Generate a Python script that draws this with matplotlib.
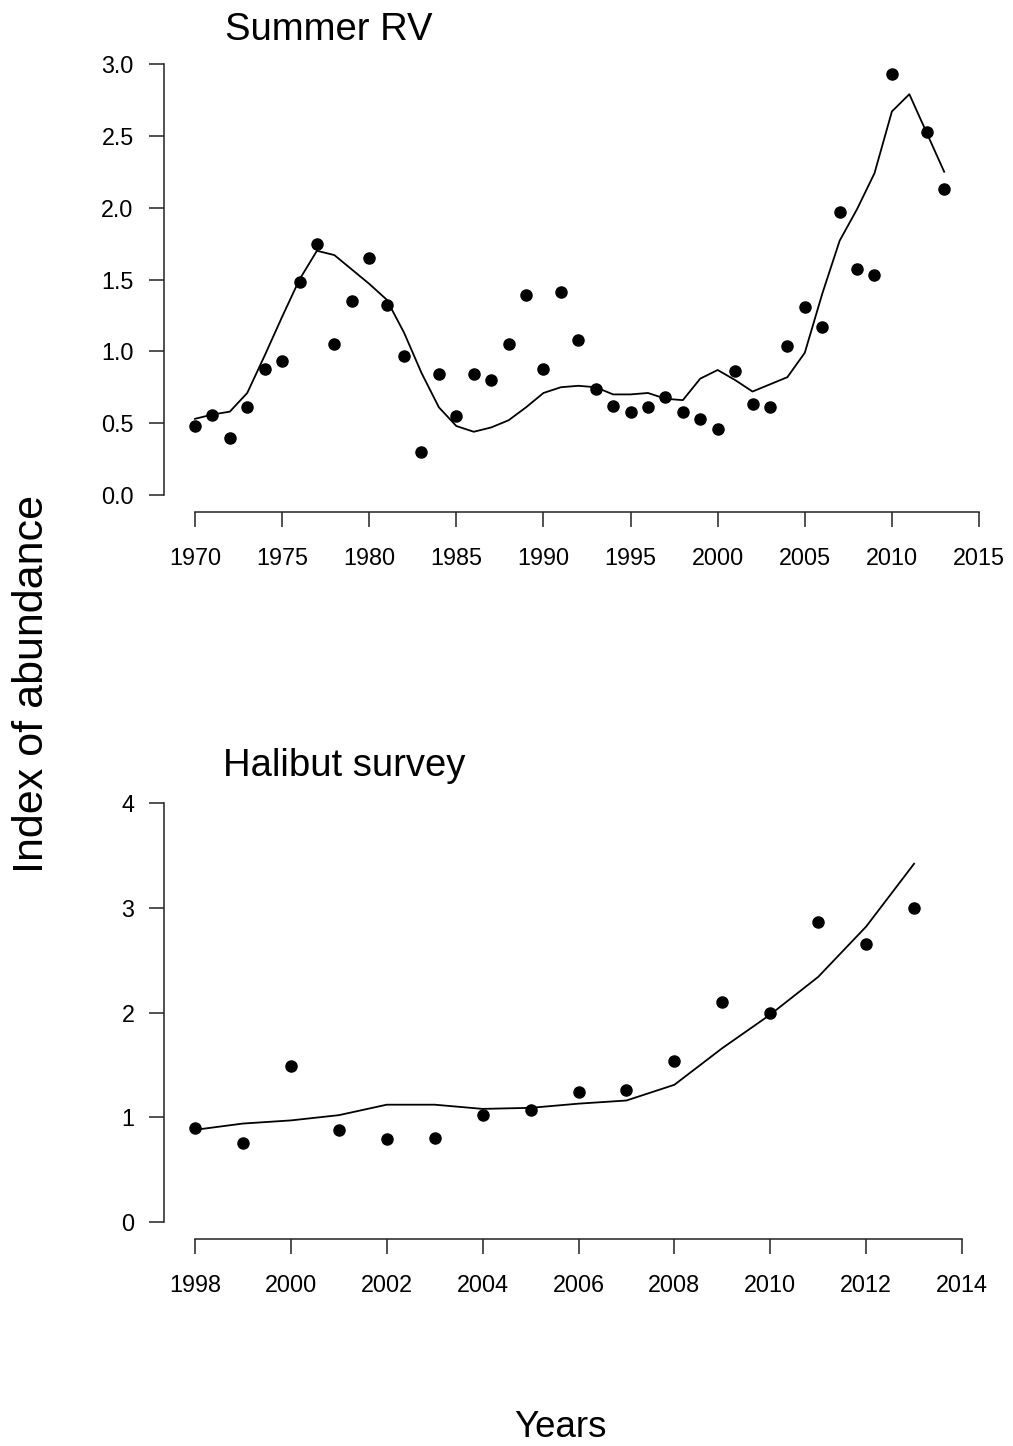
import matplotlib
matplotlib.use("Agg")
import matplotlib.pyplot as plt

# Summer RV survey index (observed points and model fit)
rv_years = [1970, 1971, 1972, 1973, 1974, 1975, 1976, 1977, 1978, 1979,
            1980, 1981, 1982, 1983, 1984, 1985, 1986, 1987, 1988, 1989,
            1990, 1991, 1992, 1993, 1994, 1995, 1996, 1997, 1998, 1999,
            2000, 2001, 2002, 2003, 2004, 2005, 2006, 2007, 2008, 2009,
            2010, 2012, 2013]
rv_obs = [0.48, 0.56, 0.40, 0.61, 0.88, 0.93, 1.48, 1.75, 1.05, 1.35,
          1.65, 1.32, 0.97, 0.30, 0.84, 0.55, 0.84, 0.80, 1.05, 1.39,
          0.88, 1.41, 1.08, 0.74, 0.62, 0.58, 0.61, 0.68, 0.58, 0.53,
          0.46, 0.86, 0.63, 0.61, 1.04, 1.31, 1.17, 1.97, 1.57, 1.53,
          2.93, 2.53, 2.13]
rv_fit_years = list(range(1970, 2014))
rv_fit = [0.53, 0.56, 0.58, 0.71, 0.97, 1.24, 1.50, 1.70, 1.67, 1.57,
          1.47, 1.36, 1.13, 0.85, 0.61, 0.48, 0.44, 0.47, 0.52, 0.61,
          0.71, 0.75, 0.76, 0.75, 0.70, 0.70, 0.71, 0.67, 0.66, 0.81,
          0.87, 0.80, 0.72, 0.77, 0.82, 0.99, 1.40, 1.77, 1.99, 2.24,
          2.67, 2.79, 2.52, 2.25]

# Halibut survey index
hal_years = list(range(1998, 2014))
hal_obs = [0.90, 0.75, 1.49, 0.88, 0.79, 0.80, 1.02, 1.07, 1.24, 1.26,
           1.54, 2.10, 2.00, 2.86, 2.65, 3.00]
hal_fit = [0.88, 0.94, 0.97, 1.02, 1.12, 1.12, 1.08, 1.09, 1.13, 1.16,
           1.31, 1.66, 1.98, 2.34, 2.82, 3.42]

rv_xticks = [1970, 1975, 1980, 1985, 1990, 1995, 2000, 2005, 2010, 2015]
rv_yticks = [0.0, 0.5, 1.0, 1.5, 2.0, 2.5, 3.0]
hal_xticks = list(range(1998, 2015, 2))
hal_yticks = [0, 1, 2, 3, 4]

plt.rcParams["font.family"] = ["Liberation Sans", "DejaVu Sans"]

W, H = 1013, 1446
fig = plt.figure(figsize=(W / 100, H / 100), dpi=100)


def px_axes(left, top, right, bottom):
    return fig.add_axes([left / W, 1 - bottom / H, (right - left) / W, (bottom - top) / H])


def style(ax, xticks, yticks, ylabels):
    for s in ["top", "right"]:
        ax.spines[s].set_visible(False)
    ax.spines["left"].set_bounds(yticks[0], yticks[-1])
    ax.spines["bottom"].set_bounds(xticks[0], xticks[-1])
    for s in ["left", "bottom"]:
        ax.spines[s].set_linewidth(1.1)
        ax.spines[s].set_color("#222222")
    ax.set_xticks(xticks)
    ax.set_xticklabels([str(x) for x in xticks])
    ax.set_yticks(yticks)
    ax.set_yticklabels(ylabels)
    ax.tick_params(axis="both", direction="out", length=10.5, width=1.1,
                   color="#222222", labelsize=16.8)
    ax.tick_params(axis="x", pad=14.5)
    ax.tick_params(axis="y", pad=11)


ax1 = px_axes(163.6, 46.8, 1010.4, 512.2)
ax1.plot(rv_fit_years, rv_fit, color="black", lw=1.3)
ax1.plot(rv_years, rv_obs, "o", color="black", ms=8)
ax1.set_xlim(1968.2, 2016.8)
ax1.set_ylim(-0.12, 3.12)
style(ax1, rv_xticks, rv_yticks, [f"{v:.1f}" for v in rv_yticks])

ax2 = px_axes(164.3, 786.2, 992.7, 1238.8)
ax2.plot(hal_years, hal_fit, color="black", lw=1.3)
ax2.plot(hal_years, hal_obs, "o", color="black", ms=8)
ax2.set_xlim(1997.36, 2014.64)
ax2.set_ylim(-0.16, 4.16)
style(ax2, hal_xticks, hal_yticks, [str(v) for v in hal_yticks])

fig.text(225 / W, 1 - 40 / H, "Summer RV", fontsize=27.5, ha="left", va="baseline")
fig.text(223 / W, 1 - 776.5 / H, "Halibut survey", fontsize=27.5, ha="left", va="baseline")
fig.text(43 / W, 1 - 684 / H, "Index of abundance", fontsize=31, rotation=90,
         rotation_mode="anchor", ha="center", va="baseline")
fig.text(560 / W, 1 - 1437 / H, "Years", fontsize=26.5, ha="center", va="baseline")

fig.savefig("out.png", dpi=100, facecolor="white")
